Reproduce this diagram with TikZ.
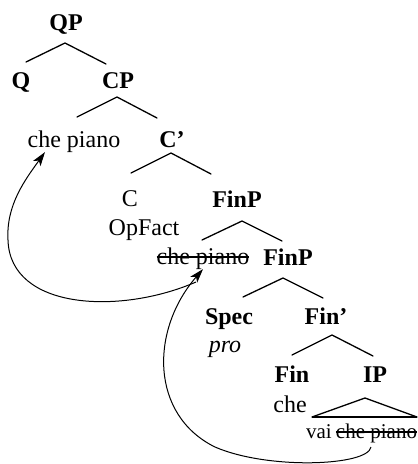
\documentclass[tikz,border=0pt]{standalone}
\usepackage{fontspec}
\setmainfont{Liberation Serif}
\usetikzlibrary{arrows.meta}
\begin{document}
\begin{tikzpicture}[x=1pt,y=-1pt,
  lab/.style={inner sep=0pt, outer sep=0pt, anchor=base, font=\fontsize{24}{28}\selectfont},
  bf/.style={lab, font=\fontsize{24}{28}\selectfont\bfseries},
  small/.style={inner sep=0pt, outer sep=0pt, font=\fontsize{21}{25}\selectfont},
  branch/.style={line width=1.3pt, line cap=round},
  strike/.style={line width=1.2pt},
  mv/.style={line width=1pt, -{Stealth[length=14pt,width=9pt,inset=3.5pt]}}]
\useasboundingbox (0,0) rectangle (418,464);
% nodes
\node[bf] (qp) at (66,30) {QP};
\node[bf] (q) at (21,88) {Q};
\node[bf] (cp) at (118,88) {CP};
\node[lab] (chp1) at (74,147) {che piano};
\node[bf] (cbar) at (172,147) {C’};
\node[lab] (c) at (130,206) {C};
\node[lab] (opf) at (144,235) {OpFact};
\node[bf] (finp1) at (237,207) {FinP};
\node[lab] (chp2) at (203,264) {che piano};
\node[bf] (finp2) at (288,265) {FinP};
\node[bf] (spec) at (229,324) {Spec};
\node[lab] (pro) at (225,352) {\itshape pro};
\node[bf] (finbar) at (326,324) {Fin’};
\node[bf] (fin) at (292,382) {Fin};
\node[bf] (ip) at (375,382) {IP};
\node[lab] (che) at (290,412) {che};
\node[small, anchor=base west] (vai) at (306,438) {vai};
\node[small, anchor=base east] (chp3) at (417,438) {che piano};
% strikes
\draw[strike] ([yshift=7pt]chp2.base west) -- ([yshift=7pt]chp2.base east);
\draw[strike] ([yshift=6pt]chp3.base west) -- ([yshift=6pt]chp3.base east);
% branches
\coordinate (a1) at (65,43); \coordinate (l1) at (26,62); \coordinate (r1) at (106,64);
\coordinate (a2) at (117,97); \coordinate (l2) at (77,117); \coordinate (r2) at (157,118);
\coordinate (a3) at (171,153); \coordinate (l3) at (131,173); \coordinate (r3) at (211,174);
\coordinate (a4) at (242,221); \coordinate (l4) at (202,240); \coordinate (r4) at (282,241);
\coordinate (a5) at (283,278); \coordinate (l5) at (243,297); \coordinate (r5) at (323,298);
\coordinate (a6) at (332,335); \coordinate (l6) at (292,355); \coordinate (r6) at (373,356);
\coordinate (a7) at (365,398); \coordinate (l7) at (312,417); \coordinate (r7) at (417,417);
\foreach \i in {1,...,6} {\draw[branch] (l\i) -- (a\i) -- (r\i);}
\draw[branch, line join=miter] (l7) -- (a7) -- (r7);
\draw[line width=2.2pt] (l7) -- (r7);
% movement arrows
\coordinate (src) at (371,447);
\coordinate (junc) at (196,282);
\coordinate (mid2) at (215,447);
\coordinate (mid1) at (8,240);
\draw[mv] (src) .. controls (368,466) and (268,470) .. (mid2)
  .. controls (150,415) and (150,330) .. (chp2.south);
\draw[mv] (junc) .. controls (120,315) and (10,310) .. (mid1)
  .. controls (6,205) and (25,180) .. ([xshift=-29pt]chp1.south);
\end{tikzpicture}
\end{document}
